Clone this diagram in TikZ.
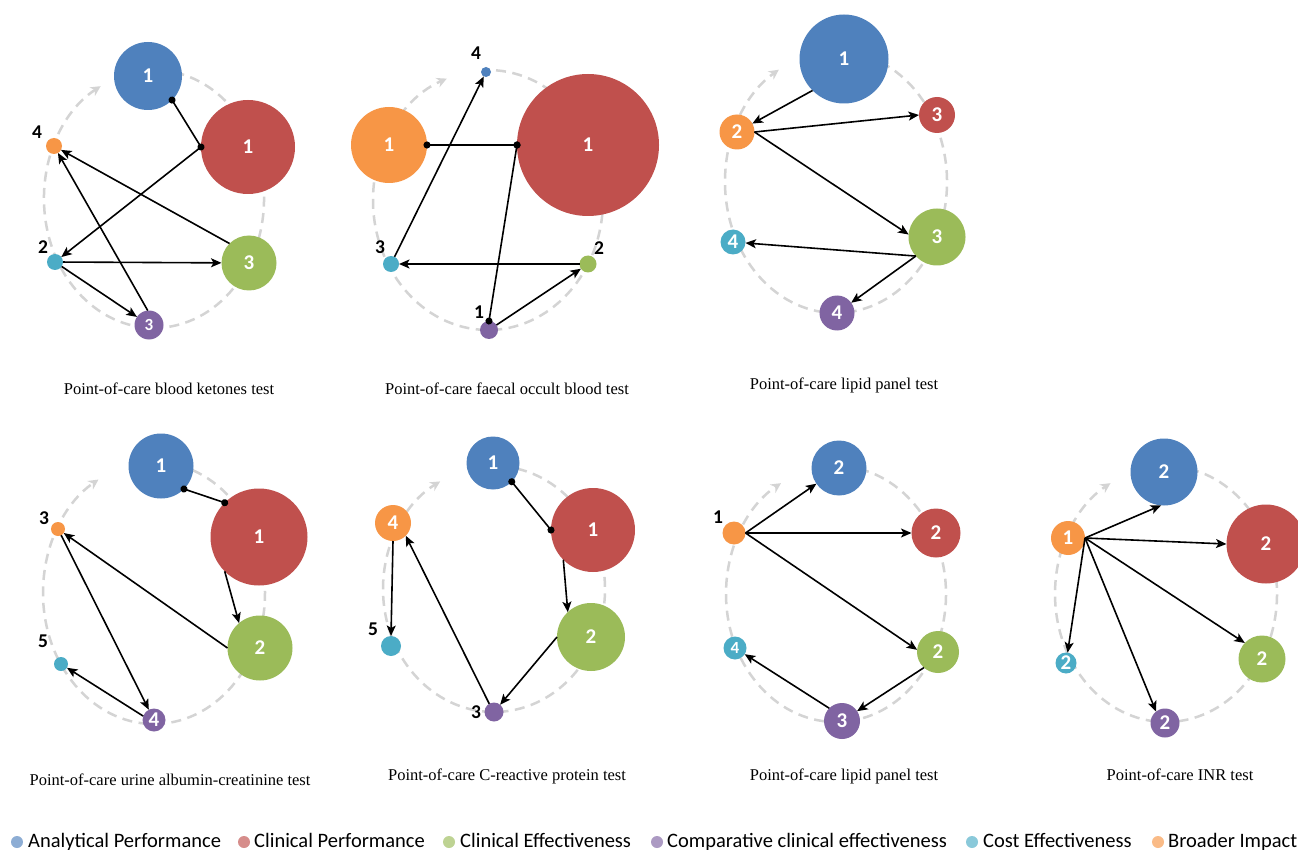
\documentclass[tikz,border=0pt]{standalone}
\usepackage{fontspec}
\setmainfont{Liberation Serif}
\newfontfamily\numfont{Carlito}
\usepackage{tikz}
\usetikzlibrary{arrows.meta}
\usetikzlibrary{positioning}

\definecolor{anblue}{HTML}{4F81BD}
\definecolor{clred}{HTML}{C0504D}
\definecolor{efgreen}{HTML}{9BBB59}
\definecolor{cmpurple}{HTML}{8064A2}
\definecolor{coaqua}{HTML}{4BACC6}
\definecolor{brorange}{HTML}{F79646}
\definecolor{trackgray}{HTML}{D4D4D4}

\begin{document}
\begin{tikzpicture}
 [x=1pt, y=-1pt,
  bubble/.style={circle, inner sep=0pt, outer sep=0pt, text=white,
                 font=\numfont\bfseries\fontsize{21}{21}\selectfont},
  small/.style={font=\numfont\bfseries\fontsize{17}{17}\selectfont},
  anal/.style={bubble, fill=anblue},
  clin/.style={bubble, fill=clred},
  effc/.style={bubble, fill=efgreen},
  comp/.style={bubble, fill=cmpurple},
  cost/.style={bubble, fill=coaqua},
  broad/.style={bubble, fill=brorange},
  tag/.style={inner sep=0pt, font=\numfont\bfseries\fontsize{19.5}{19.5}\selectfont},
  track/.style={draw=trackgray, line width=2.5pt, dash pattern=on 10pt off 6.5pt,
                -{Stealth[length=10pt,width=10pt]}},
  post/.style={->, >={Stealth[length=10.5pt,width=9pt,inset=2.5pt]}, line width=1.6pt},
  link/.style={{Circle[length=7pt]}-{Circle[length=7pt]},
               shorten <=-3.5pt, shorten >=-3.5pt, line width=1.6pt},
  caption/.style={font=\fontsize{16.5}{18}\selectfont},
  keydot/.style={circle, inner sep=0pt, minimum size=12pt},
  keytext/.style={anchor=base west, inner sep=0pt,
                  font=\numfont\fontsize{20.5}{22}\selectfont}]
 \path[use as bounding box, fill=white] (0,0) rectangle (1298,850);

 % blood ketones
 \draw[track] (154,199) ++(-105:110 and 129)
   arc[start angle=-105, end angle=241, x radius=110, y radius=129];
 \node[anal,  minimum size=68pt] (ap1) at (148,76)  {1};
 \node[clin,  minimum size=94pt] (cp1) at (248,147) {1};
 \node[broad, minimum size=16pt] (bi1) at (54,146)  {};
 \node[cost,  minimum size=16pt] (co1) at (55,262)  {};
 \node[effc,  minimum size=55pt] (ce1) at (249,263) {3};
 \node[comp, small, minimum size=29pt] (cc1) at (149,325) {3};
 \node[tag] (bi1t) at (37,132) {4};
 \node[tag] (co1t) at (43,247) {2};
 \node[caption] (cap1) at (169,389) {Point-of-care blood ketones test};
 \path (ap1.-45) edge [link] (cp1.180)
       (cp1.180) edge [post] (co1)
       (co1)     edge [post] (ce1)
                 edge [post] (cc1)
       (cc1.95)  edge [post] (bi1)
       (ce1.135) edge [post] (bi1);

 % faecal occult blood
 \draw[track] (488,200) ++(-86:115 and 130)
   arc[start angle=-86, end angle=249, x radius=115, y radius=130];
 \node[broad, minimum size=76pt]  (bi2) at (389,145) {1};
 \node[clin,  minimum size=142pt] (cp2) at (588,145) {1};
 \node[anal,  minimum size=10pt]  (ap2) at (486,72)  {};
 \node[cost,  minimum size=16pt]  (co2) at (391,264) {};
 \node[effc,  minimum size=17pt]  (ce2) at (588,264) {};
 \node[comp,  minimum size=18pt]  (cc2) at (489,330) {};
 \node[tag] (ap2t) at (476,53)  {4};
 \node[tag] (co2t) at (380,247) {3};
 \node[tag] (ce2t) at (599,248) {2};
 \node[tag] (cc2t) at (479,312) {1};
 \node[caption] (cap2) at (507,389) {Point-of-care faecal occult blood test};
 \path (bi2.0)   edge [link] (cp2.180)
       (cp2.180) edge [link] (cc2.90)
       (cc2)     edge [post] (ce2)
       (ce2)     edge [post] (co2)
       (co2)     edge [post] (ap2);

 % lipid panel (top)
 \draw[track] (836,182) ++(-100:111 and 131)
   arc[start angle=-100, end angle=239, x radius=111, y radius=131];
 \node[anal,  minimum size=89pt] (ap3) at (844,59)  {1};
 \node[broad, minimum size=35pt] (bi3) at (737,132) {2};
 \node[clin,  minimum size=36pt] (cp3) at (937,115) {3};
 \node[effc,  minimum size=57pt] (ce3) at (937,237) {3};
 \node[cost,  minimum size=25pt] (co3) at (733,242) {4};
 \node[comp,  minimum size=35pt] (cc3) at (837,313) {4};
 \node[caption] (cap3) at (844,385) {Point-of-care lipid panel test};
 \path (ap3.225) edge [post] (bi3)
       (bi3.0)   edge [post] (cp3.180)
                 edge [post] (ce3.175)
       (ce3.222) edge [post] (co3)
                 edge [post] (cc3);

 % urine albumin-creatinine
 \draw[track] (154,593) ++(-95:111 and 131)
   arc[start angle=-95, end angle=240, x radius=111, y radius=131];
 \node[anal,  minimum size=65pt] (ap4) at (161,466) {1};
 \node[clin,  minimum size=97pt] (cp4) at (259,537) {1};
 \node[broad, minimum size=14pt] (bi4) at (58,529)  {};
 \node[effc,  minimum size=65pt] (ce4) at (260,648) {2};
 \node[cost,  minimum size=14pt] (co4) at (61,664)  {};
 \node[comp,  minimum size=23pt] (cc4) at (154,720) {4};
 \node[tag] (bi4t) at (44,518) {3};
 \node[tag] (co4t) at (43,641) {5};
 \node[caption] (cap4) at (170,780) {Point-of-care urine albumin-creatinine test};
 \path (ap4.-45)  edge [link] (cp4.135)
       (cp4.225)  edge [post] (ce4.130)
       (ce4.180)  edge [post] (bi4)
       (bi4)      edge [post] (cc4)
       (cc4.160)  edge [post] (co4);

 % C-reactive protein
 \draw[track] (494,589) ++(-95:111 and 123)
   arc[start angle=-95, end angle=241, x radius=111, y radius=123];
 \node[anal,  minimum size=53pt] (ap5) at (493,463) {1};
 \node[clin,  minimum size=84pt] (cp5) at (593,530) {1};
 \node[broad, minimum size=36pt] (bi5) at (393,523) {4};
 \node[effc,  minimum size=68pt] (ce5) at (591,637) {2};
 \node[cost,  minimum size=20pt] (co5) at (391,646) {};
 \node[comp,  minimum size=19pt] (cc5) at (494,712) {};
 \node[tag] (co5t) at (373,629) {5};
 \node[tag] (cc5t) at (476,712) {3};
 \node[caption] (cap5) at (507,776) {Point-of-care C-reactive protein test};
 \path (ap5.-45)  edge [link] (cp5.180)
       (cp5.225)  edge [post] (ce5.133)
       (ce5.180)  edge [post] (cc5)
       (cc5.120)  edge [post] (bi5.-45)
       (bi5.-90)  edge [post] (co5.90);

 % lipid panel (bottom)
 \draw[track] (836,594) ++(-95:110 and 128)
   arc[start angle=-95, end angle=240, x radius=110, y radius=128];
 \node[anal,  minimum size=55pt] (ap6) at (839,468) {2};
 \node[clin,  minimum size=49pt] (cp6) at (936,533) {2};
 \node[broad, minimum size=23pt] (bi6) at (734,533) {};
 \node[effc,  minimum size=42pt] (ce6) at (938,652) {2};
 \node[cost, small, minimum size=23pt] (co6) at (735,648) {4};
 \node[comp,  minimum size=36pt] (cc6) at (842,721) {3};
 \node[tag] (bi6t) at (718,517) {1};
 \node[caption] (cap6) at (844,776) {Point-of-care lipid panel test};
 \path (bi6.0)   edge [post] (ap6)
                 edge [post] (cp6.180)
                 edge [post] (ce6.174)
       (ce6.228) edge [post] (cc6)
       (cc6.135) edge [post] (co6);

 % INR
 \draw[track] (1166,594) ++(-95:111 and 128)
   arc[start angle=-95, end angle=240, x radius=111, y radius=128];
 \node[anal,  minimum size=67pt] (ap7) at (1164,472) {2};
 \node[clin,  minimum size=79pt] (cp7) at (1266,544) {2};
 \node[broad, minimum size=34pt] (bi7) at (1068,538) {1};
 \node[effc,  minimum size=47pt] (ce7) at (1262,659) {2};
 \node[cost,  minimum size=21pt] (co7) at (1066,663) {2};
 \node[comp,  minimum size=29pt] (cc7) at (1165,723) {2};
 \node[caption] (cap7) at (1180,775) {Point-of-care INR test};
 \path (bi7.0) edge [post] (ap7.-95)
               edge [post] (cp7.180)
               edge [post] (ce7.137)
               edge [post] (cc7.128)
               edge [post] (co7);

 % legend
 \node[keydot, fill=anblue!65!white]    (k1) at (17,842)   {};
 \node[keytext] (k1t) at (28,847)   {Analytical Performance};
 \node[keydot, fill=clred!65!white]     (k2) at (244,842)  {};
 \node[keytext] (k2t) at (254,847)  {Clinical Performance};
 \node[keydot, fill=efgreen!65!white]   (k3) at (449,842)  {};
 \node[keytext] (k3t) at (460,847)  {Clinical Effectiveness};
 \node[keydot, fill=cmpurple!65!white]  (k4) at (657,842)  {};
 \node[keytext] (k4t) at (667,847)  {Comparative clinical effectiveness};
 \node[keydot, fill=coaqua!65!white]    (k5) at (972,842)  {};
 \node[keytext] (k5t) at (983,847)  {Cost Effectiveness};
 \node[keydot, fill=brorange!65!white]  (k6) at (1158,842) {};
 \node[keytext] (k6t) at (1168,847) {Broader Impact};
\end{tikzpicture}
\end{document}
